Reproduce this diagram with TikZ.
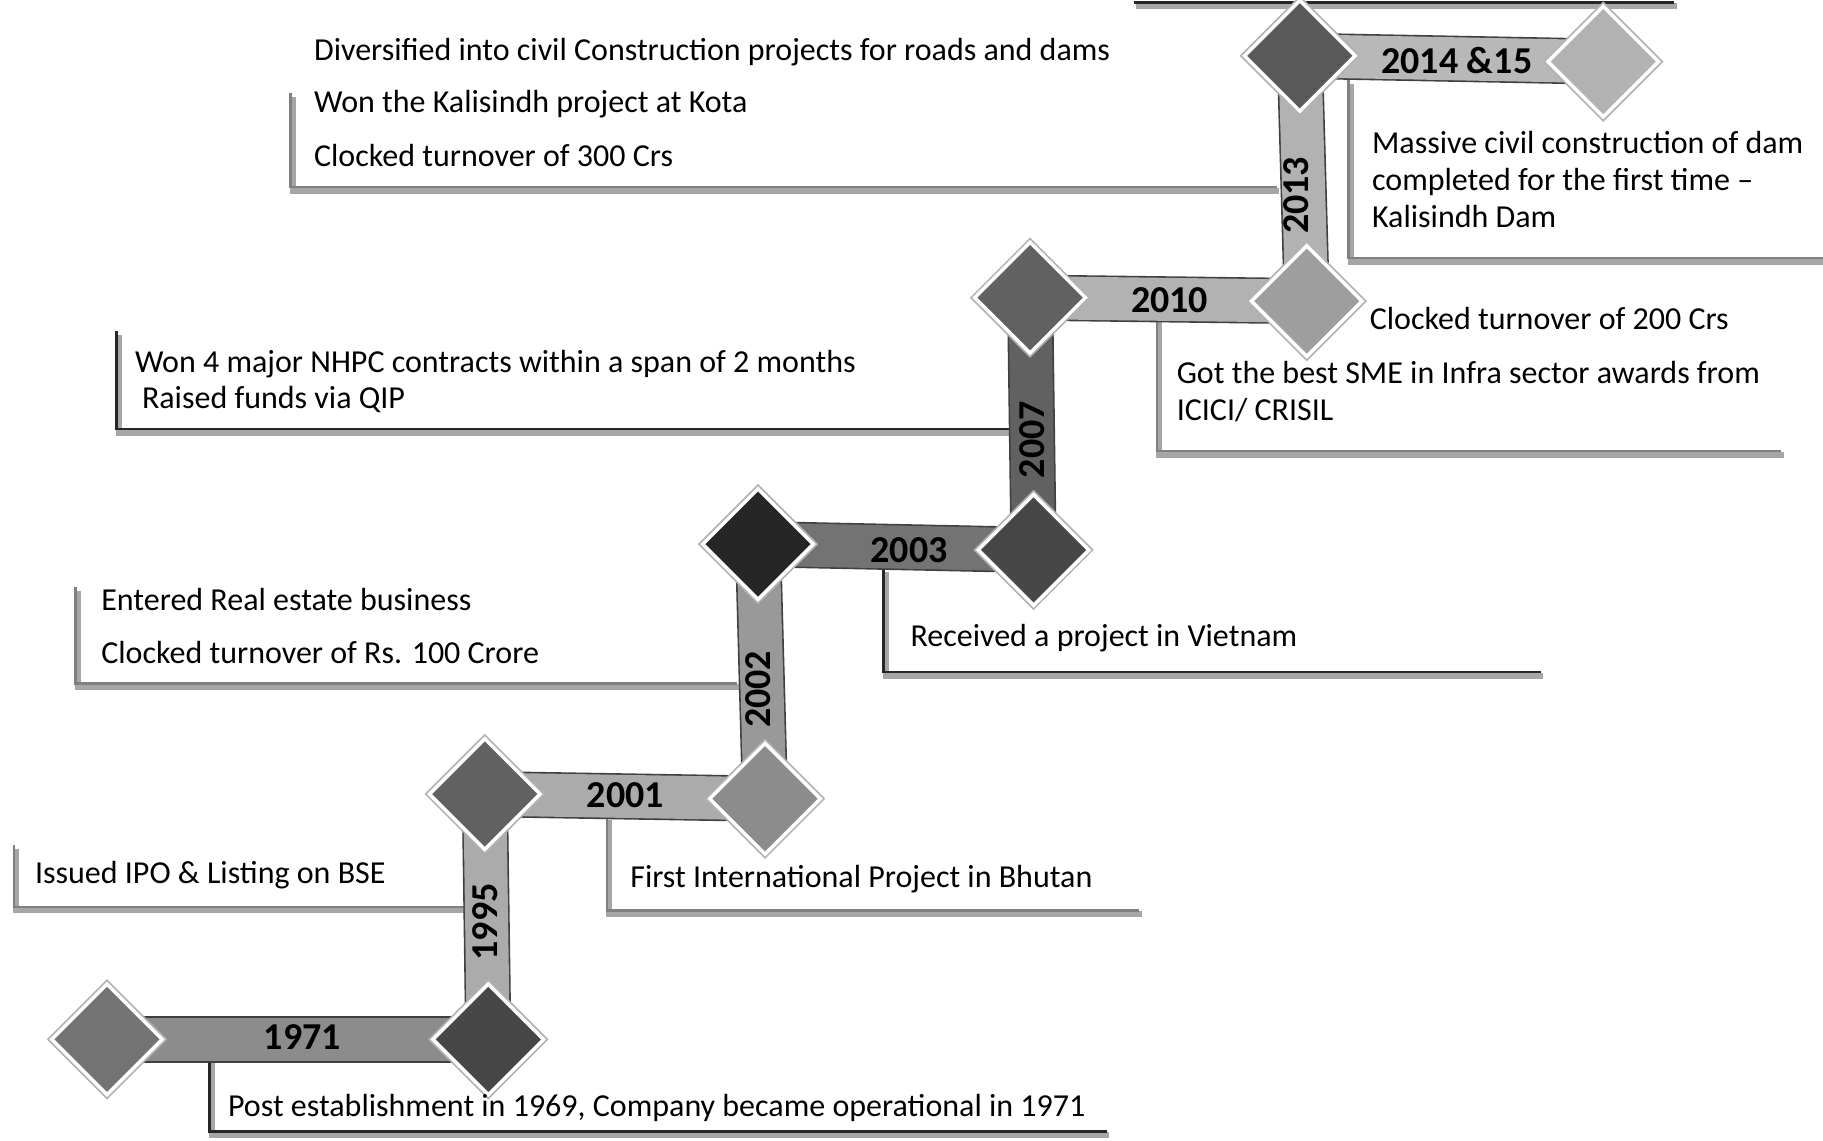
\documentclass[tikz,border=0pt]{standalone}
\usepackage{fontspec}
\setmainfont{Carlito}
\usetikzlibrary{shapes.geometric,backgrounds}
\begin{document}
\begin{tikzpicture}[x=1.16263pt,y=-1.16263pt,
  dia/.style={diamond,minimum size=112pt,inner sep=0pt,fill=#1,draw=white,line width=3.5pt,preaction={draw=black!30,line width=7pt}},
  bar/.style={line width=1.6pt,draw=black!75,double=#1,double distance=43pt},
  yr/.style={font=\fontsize{38}{44}\selectfont\bfseries,text=black,inner sep=0pt},
  txt/.style={font=\fontsize{32}{38}\selectfont,text=black,anchor=base west,inner sep=0pt},
  shad/.style={draw=black!35,line width=6pt,transform canvas={shift={(2.5pt,-3.5pt)}}},
  cdark/.style={draw=black!85,line width=2.5pt},
  clight/.style={draw=black!50,line width=2.5pt},
]
\useasboundingbox (0,0) rectangle (1568,981);
% diamonds
\node[dia=black!55] (d1971a) at (92,894) {};
\node[dia=black!72] (d1971b) at (420,894) {};
\node[dia=black!62] (d1995) at (417,683) {};
\node[dia=black!45] (d2001) at (658,687) {};
\node[dia=black!85] (d2002) at (652,468) {};
\node[dia=black!72] (d2003) at (889,473) {};
\node[dia=black!62] (d2007) at (886,256) {};
\node[dia=black!38] (d2010) at (1124,259) {};
\node[dia=black!65] (d2013) at (1118,48) {};
\node[dia=black!30] (d2014) at (1379,53) {};
% callout corners
\coordinate (a1) at (180,906); \coordinate (a2) at (180,973); \coordinate (a3) at (952,973);
\coordinate (b1) at (12,727); \coordinate (b2) at (12,780); \coordinate (b3) at (400,780);
\coordinate (c1) at (522,702); \coordinate (c2) at (522,783); \coordinate (c3) at (980,783);
\coordinate (e1) at (65,505); \coordinate (e2) at (65,588); \coordinate (e3) at (634,588);
\coordinate (f1) at (760,489); \coordinate (f2) at (760,578); \coordinate (f3) at (1325,578);
\coordinate (g1) at (100,285); \coordinate (g2) at (100,369); \coordinate (g3) at (870,369);
\coordinate (h1) at (995,274); \coordinate (h2) at (995,388); \coordinate (h3) at (1532,388);
\coordinate (k1) at (250,80); \coordinate (k2) at (250,161); \coordinate (k3) at (1098,161);
\coordinate (m1) at (1160,69); \coordinate (m2) at (1160,222); \coordinate (m3) at (1568,222);
\coordinate (t1) at (975,2); \coordinate (t2) at (1440,2);
\begin{pgfonlayer}{background}
\fill[white] (0,0) rectangle (1568,981);
\foreach \p in {a,b,c,e,f,g,h,k,m}{\draw[shad] (\p1) -- (\p2) -- (\p3);}
\draw[shad] (t1) -- (t2);
\draw[cdark] (a1) -- (a2) -- (a3);
\draw[clight] (b1) -- (b2) -- (b3);
\draw[clight] (c1) -- (c2) -- (c3);
\draw[clight] (e1) -- (e2) -- (e3);
\draw[cdark] (f1) -- (f2) -- (f3);
\draw[cdark] (g1) -- (g2) -- (g3);
\draw[clight] (h1) -- (h2) -- (h3);
\draw[clight] (k1) -- (k2) -- (k3);
\draw[clight] (m1) -- (m2) -- (m3);
\draw[cdark] (t1) -- (t2);
% bars
\draw[bar=black!45] (d1971a.center) -- (d1971b.center);
\draw[bar=black!33] (d1995.center) -- (d1971b.center);
\draw[bar=black!33] (d1995.center) -- (d2001.center);
\draw[bar=black!40] (d2002.center) -- (d2001.center);
\draw[bar=black!55] (d2002.center) -- (d2003.center);
\draw[bar=black!62] (d2007.center) -- (d2003.center);
\draw[bar=black!30] (d2007.center) -- (d2010.center);
\draw[bar=black!30] (d2013.center) -- (d2010.center);
\draw[bar=black!28] (d2013.center) -- (d2014.center);
\end{pgfonlayer}
% year labels
\node[yr] (y1971) at (260,892) {1971};
\node[yr,rotate=90] (y1995) at (417,793) {1995};
\node[yr] (y2001) at (538,684) {2001};
\node[yr,rotate=90] (y2002) at (652,593) {2002};
\node[yr] (y2003) at (782,473) {2003};
\node[yr,rotate=90] (y2007) at (888,378) {2007};
\node[yr] (y2010) at (1006,258) {2010};
\node[yr,rotate=90] (y2013) at (1115,168) {2013};
\node[yr] (y2014) at (1253,52) {2014 \&15};
% texts
\node[txt] (ta) at (196,960) {Post establishment in 1969, Company became operational in 1971};
\node[txt] (tb) at (30,760) {Issued IPO \& Listing on BSE};
\node[txt] (tc) at (542,763) {First International Project in Bhutan};
\node[txt] (te1) at (87,525) {Entered Real estate business};
\node[txt] (te2) at (87,571) {Clocked turnover of Rs. 100 Crore};
\node[txt] (tf) at (783,556) {Received a project in Vietnam};
\node[txt] (tg1) at (116,320) {Won 4 major NHPC contracts within a span of 2 months};
\node[txt] (tg2) at (122,351) {Raised funds via QIP};
\node[txt] (th1) at (1012,330) {Got the best SME in Infra sector awards from};
\node[txt] (th2) at (1012,362) {ICICI/ CRISIL};
\node[txt] (th0) at (1178,283) {Clocked turnover of 200 Crs};
\node[txt] (tk1) at (270,52) {Diversified into civil Construction projects for roads and dams};
\node[txt] (tk2) at (270,97) {Won the Kalisindh project at Kota};
\node[txt] (tk3) at (270,143) {Clocked turnover of 300 Crs};
\node[txt] (tm1) at (1180,132) {Massive civil construction of dam};
\node[txt] (tm2) at (1180,164) {completed for the first time –};
\node[txt] (tm3) at (1180,196) {Kalisindh Dam};
\end{tikzpicture}
\end{document}
